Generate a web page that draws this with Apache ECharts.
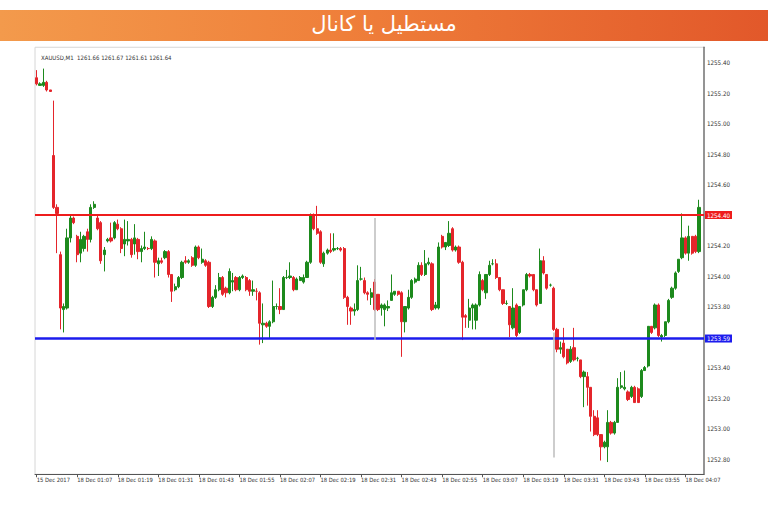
<!DOCTYPE html>
<html>
<head>
<meta charset="utf-8">
<script src="https://cdn.jsdelivr.net/npm/echarts@6/dist/echarts.min.js"></script>
<style>
html,body{margin:0;padding:0;background:#fff;}
#chart{width:768px;height:507px;}
</style>
</head>
<body>
<div id="chart"></div>
<script>
// ---- data (XAUUSD M1) ----
const titleText = 'مستطيل يا كانال';
const tickerText = 'XAUUSD,M1  1261.66 1261.67 1261.61 1261.64';
const tickLabels = ['15 Dec 2017','18 Dec 01:07','18 Dec 01:19','18 Dec 01:31','18 Dec 01:43','18 Dec 01:55','18 Dec 02:07','18 Dec 02:19','18 Dec 02:31','18 Dec 02:43','18 Dec 02:55','18 Dec 03:07','18 Dec 03:19','18 Dec 03:31','18 Dec 03:43','18 Dec 03:55','18 Dec 04:07'];
const tickEvery = 12;
const slotCount = 198;

const opens = [
1255.30,1255.25,1255.25,1255.27,1255.22,1254.79,1254.45,1254.14,1253.78,1253.79,
1254.25,1254.38,1254.26,1254.15,1254.18,1254.29,1254.24,1254.45,1254.38,1254.35,
1254.14,1254.23,1254.25,1254.25,1254.34,1254.31,1254.21,1254.23,1254.24,1254.21,
1254.24,1254.16,1254.18,1254.18,1254.18,1254.23,1254.08,1254.10,1254.12,1254.16,
1254.01,1253.91,1253.93,1253.99,1254.10,1254.09,1254.12,1254.07,1254.19,1254.09,
1254.10,1254.09,1253.80,1253.86,1253.91,1253.99,1253.92,1253.89,1253.96,1253.99,
1253.91,1253.99,1253.99,1253.97,1253.90,1253.90,1253.89,1253.68,1253.69,1253.67,
1253.70,1253.80,1253.80,1253.78,1253.99,1253.99,1253.99,1253.91,1253.97,1253.96,
1253.99,1254.09,1254.40,1254.31,1254.29,1254.08,1254.15,1254.17,1254.17,1254.18,
1254.18,1254.18,1253.86,1253.79,1253.77,1253.78,1253.98,1253.97,1253.89,1253.86,
1253.96,1253.88,1253.79,1253.78,1253.79,1253.84,1253.88,1253.90,1253.89,1253.70,
1253.79,1253.86,1253.96,1253.97,1254.07,1254.01,1254.08,1254.08,1253.79,1253.79,
1254.26,1254.19,1254.20,1254.31,1254.17,1254.19,1254.09,1253.74,1253.71,1253.79,
1253.71,1253.81,1253.97,1253.89,1254.01,1254.08,1254.08,1253.99,1253.91,1253.82,
1253.80,1253.66,1253.81,1253.63,1253.81,1253.91,1254.01,1254.01,1253.91,1253.82,
1254.10,1254.01,1253.94,1253.92,1253.65,1253.52,1253.56,1253.52,1253.44,1253.53,
1253.46,1253.45,1253.34,1253.34,1253.27,1253.08,1253.07,1252.96,1252.88,1252.88,
1253.04,1252.97,1253.04,1253.27,1253.26,1253.24,1253.21,1253.27,1253.26,1253.21,
1253.38,1253.41,1253.67,1253.66,1253.81,1253.60,1253.61,1253.70,1253.86,1253.92,
1254.03,1254.12,1254.25,1254.15,1254.26,1254.26,1254.16];

const closes = [
1255.26,1255.26,1255.27,1255.22,1255.21,1254.45,1254.41,1253.79,1253.80,1254.25,
1254.38,1254.35,1254.14,1254.24,1254.26,1254.24,1254.45,1254.47,1254.31,1254.10,
1254.17,1254.24,1254.23,1254.35,1254.31,1254.18,1254.24,1254.24,1254.14,1254.25,
1254.16,1254.18,1254.19,1254.18,1254.24,1254.09,1254.10,1254.09,1254.16,1254.01,
1253.90,1253.93,1253.99,1254.09,1254.09,1254.10,1254.07,1254.19,1254.12,1254.11,
1254.07,1253.80,1253.86,1253.91,1253.99,1253.88,1253.89,1254.03,1253.97,1253.91,
1253.99,1254.00,1253.91,1253.90,1253.91,1253.90,1253.69,1253.69,1253.67,1253.70,
1253.80,1253.80,1253.78,1253.99,1253.99,1254.00,1253.91,1253.98,1253.99,1253.99,
1254.09,1254.40,1254.31,1254.28,1254.09,1254.15,1254.17,1254.16,1254.18,1254.18,
1254.17,1253.86,1253.80,1253.77,1253.78,1253.97,1253.98,1253.89,1253.88,1253.89,
1253.78,1253.78,1253.81,1253.81,1253.80,1253.89,1253.90,1253.88,1253.70,1253.80,
1253.86,1253.97,1253.98,1254.07,1254.01,1254.08,1254.09,1253.78,1253.81,1254.19,
1254.19,1254.22,1254.28,1254.17,1254.19,1254.09,1253.73,1253.73,1253.79,1253.81,
1253.81,1254.01,1253.91,1254.01,1254.07,1254.08,1253.99,1253.91,1253.82,1253.82,
1253.68,1253.79,1253.61,1253.80,1253.91,1254.01,1254.00,1253.91,1253.81,1254.10,
1254.02,1253.92,1253.94,1253.65,1253.52,1253.53,1253.47,1253.43,1253.52,1253.45,
1253.46,1253.34,1253.37,1253.27,1253.08,1252.96,1252.96,1252.88,1252.91,1253.04,
1252.97,1253.04,1253.27,1253.28,1253.27,1253.19,1253.27,1253.17,1253.17,1253.38,
1253.40,1253.67,1253.63,1253.81,1253.61,1253.61,1253.70,1253.84,1253.92,1254.02,
1254.11,1254.25,1254.15,1254.26,1254.15,1254.16,1254.45];

const lows = [
1255.25,1255.25,1255.24,1255.21,1255.21,1254.44,1254.15,1253.65,1253.63,1253.78,
1254.22,1254.34,1254.09,1254.09,1254.16,1254.16,1254.22,1254.44,1254.30,1254.08,
1254.03,1254.22,1254.22,1254.24,1254.30,1254.15,1254.13,1254.20,1254.12,1254.14,
1254.11,1254.09,1254.17,1254.17,1254.17,1253.99,1254.00,1254.08,1254.11,1253.99,
1253.83,1253.90,1253.92,1253.98,1254.08,1254.08,1254.06,1254.06,1254.11,1254.08,
1254.06,1253.79,1253.79,1253.85,1253.90,1253.87,1253.86,1253.88,1253.90,1253.90,
1253.90,1253.98,1253.90,1253.87,1253.87,1253.84,1253.55,1253.56,1253.66,1253.59,
1253.69,1253.78,1253.75,1253.78,1253.98,1253.98,1253.90,1253.91,1253.97,1253.95,
1253.99,1254.08,1254.30,1254.27,1254.08,1254.06,1254.14,1254.15,1254.16,1254.17,
1254.16,1253.85,1253.68,1253.68,1253.74,1253.77,1253.97,1253.88,1253.84,1253.81,
1253.77,1253.77,1253.74,1253.67,1253.77,1253.84,1253.87,1253.87,1253.47,1253.63,
1253.78,1253.85,1253.95,1253.97,1254.00,1254.00,1254.07,1253.77,1253.78,1253.78,
1254.18,1254.17,1254.19,1254.16,1254.16,1254.08,1253.58,1253.66,1253.66,1253.65,
1253.65,1253.80,1253.90,1253.85,1254.00,1254.07,1253.98,1253.90,1253.81,1253.81,
1253.60,1253.65,1253.60,1253.62,1253.80,1253.90,1253.99,1253.90,1253.80,1253.82,
1254.01,1253.91,1253.93,1253.64,1253.50,1253.49,1253.46,1253.42,1253.43,1253.44,
1253.44,1253.33,1253.14,1253.15,1252.98,1252.95,1252.95,1252.79,1252.87,1252.78,
1252.96,1252.96,1253.04,1253.26,1253.25,1253.18,1253.20,1253.17,1253.17,1253.20,
1253.38,1253.40,1253.62,1253.65,1253.60,1253.57,1253.60,1253.69,1253.85,1253.91,
1254.02,1254.11,1254.14,1254.10,1254.14,1254.15,1254.15];

const highs = [
1255.35,1255.27,1255.36,1255.28,1255.22,1255.15,1254.47,1254.16,1253.82,1254.31,
1254.40,1254.39,1254.27,1254.29,1254.27,1254.31,1254.47,1254.49,1254.40,1254.36,
1254.19,1254.25,1254.35,1254.36,1254.37,1254.32,1254.37,1254.36,1254.25,1254.34,
1254.25,1254.20,1254.29,1254.19,1254.26,1254.24,1254.12,1254.12,1254.17,1254.17,
1254.01,1253.95,1254.00,1254.10,1254.13,1254.11,1254.13,1254.20,1254.20,1254.18,
1254.11,1254.10,1253.87,1253.94,1254.02,1254.00,1253.93,1254.05,1254.02,1254.00,
1254.00,1254.01,1254.00,1253.98,1253.97,1253.92,1253.90,1253.82,1253.70,1253.71,
1253.97,1253.82,1253.92,1254.00,1254.04,1254.09,1254.00,1253.99,1254.00,1254.01,
1254.10,1254.41,1254.41,1254.46,1254.30,1254.16,1254.18,1254.28,1254.28,1254.19,
1254.19,1254.19,1253.87,1253.80,1253.82,1254.07,1254.06,1253.99,1253.90,1253.92,
1253.98,1253.88,1253.82,1253.82,1253.84,1254.01,1253.90,1253.90,1253.90,1253.80,
1253.91,1253.98,1253.99,1254.09,1254.09,1254.17,1254.12,1254.09,1253.83,1254.22,
1254.27,1254.22,1254.36,1254.32,1254.20,1254.20,1254.10,1253.75,1253.85,1253.82,
1253.82,1254.03,1253.98,1254.01,1254.10,1254.11,1254.11,1253.99,1253.91,1253.84,
1253.80,1253.92,1253.82,1253.80,1253.91,1254.02,1254.02,1254.01,1253.91,1254.18,
1254.13,1254.01,1253.95,1253.93,1253.66,1253.57,1253.66,1253.52,1253.54,1253.66,
1253.47,1253.45,1253.38,1253.37,1253.27,1253.12,1253.12,1252.96,1252.92,1253.12,
1253.05,1253.05,1253.33,1253.37,1253.38,1253.25,1253.28,1253.28,1253.27,1253.39,
1253.41,1253.67,1253.67,1253.82,1253.82,1253.62,1253.70,1253.85,1253.93,1254.03,
1254.11,1254.41,1254.26,1254.33,1254.26,1254.27,1254.50];

// grey spikes (long thin shadows)
const spikeIndex = [100, 153];
const spikeLow = [1253.58, 1252.81];
const spikeHigh = [1254.38, 1253.63];

// horizontal levels
const resistanceLevel = 1254.40;
const supportLevel = 1253.59;

// ---- chart ----
const categories = Array.from({length: slotCount}, (_, i) => String(i));
const candleData = opens.map((o, i) => [o, closes[i], lows[i], highs[i]]);

const spikeLines = spikeIndex.map((idx, k) => [
  {coord: [String(idx), spikeLow[k]], lineStyle: {color: '#bdbdbd', width: 1.5, type: 'solid'}, label: {show: false}},
  {coord: [String(idx), spikeHigh[k]]}
]);

const narrow = "'Liberation Sans Narrow','DejaVu Sans Condensed','Liberation Sans',Arial,sans-serif";
const chart = echarts.init(document.getElementById('chart'), null, {renderer: 'svg'});
const levels = [resistanceLevel, supportLevel];

chart.setOption({
  animation: false,
  backgroundColor: '#ffffff',
  title: [
    {text: titleText, left: 'center', top: 8,
     textStyle: {color: '#ffffff', fontSize: 21, fontWeight: 'normal', fontFamily: "'DejaVu Sans','Noto Sans',sans-serif"}},
    {text: tickerText, left: 36, top: 49,
     textStyle: {color: '#333333', fontSize: 6, fontWeight: 'normal', fontFamily: narrow}}
  ],
  graphic: [{
    type: 'rect', z: -1, silent: true,
    shape: {x: 0, y: 10, width: 768, height: 31},
    style: {fill: new echarts.graphic.LinearGradient(0, 0, 1, 0, [
      {offset: 0, color: '#f39a4c'},
      {offset: 0.45, color: '#ef7f3a'},
      {offset: 1, color: '#e2582a'}
    ])}
  }],
  grid: {left: 35, right: 64, top: 47.25, bottom: 32.75, show: true, borderColor: '#d6d6d6', borderWidth: 1},
  xAxis: {
    type: 'category',
    data: categories,
    boundaryGap: true,
    axisLine: {show: true, lineStyle: {color: '#555555', width: 1}},
    axisTick: {show: true, alignWithLabel: true, length: 3, interval: (i) => i % tickEvery === 0, lineStyle: {color: '#555555'}},
    axisLabel: {
      interval: (i) => i % tickEvery === 0,
      formatter: (v, i) => (i % tickEvery === 0 && tickLabels[i / tickEvery]) ? tickLabels[i / tickEvery] : '',
      align: 'left', margin: 3, color: '#333333', fontSize: 5.8, fontFamily: narrow
    },
    splitLine: {show: false}
  },
  yAxis: {
    type: 'value',
    position: 'right',
    min: 1252.7, max: 1255.5, interval: 0.1,
    scale: true,
    axisLine: {show: true, lineStyle: {color: '#777777', width: 1.5}},
    axisTick: {show: false},
    splitLine: {show: false},
    axisLabel: {
      margin: 3, color: '#333333', fontSize: 6.2, fontFamily: narrow,
      formatter: (v) => {
        if (Math.round(v * 10) % 2 !== 0) return '';
        for (const l of levels) if (Math.abs(v - l) < 0.05) return '';
        return v.toFixed(2);
      }
    }
  },
  series: [{
    type: 'candlestick',
    data: candleData,
    barWidth: '80%',
    itemStyle: {color: '#1d8a1d', color0: '#e4252b', borderColor: '#1d8a1d', borderColor0: '#e4252b', borderWidth: 1},
    markLine: {
      silent: true,
      symbol: ['none', 'none'],
      animation: false,
      data: [
        {yAxis: resistanceLevel, lineStyle: {color: '#ee1c1c', width: 2, type: 'solid'},
         label: {show: true, position: 'end', distance: 1, formatter: () => resistanceLevel.toFixed(2),
                 color: '#ffffff', backgroundColor: '#ee1c1c', padding: [1, 2, 1, 2], fontSize: 6.2, fontFamily: narrow}},
        {yAxis: supportLevel, lineStyle: {color: '#1c1ced', width: 2.5, type: 'solid'},
         label: {show: true, position: 'end', distance: 1, formatter: () => supportLevel.toFixed(2),
                 color: '#ffffff', backgroundColor: '#1c1ced', padding: [1, 2, 1, 2], fontSize: 6.2, fontFamily: narrow}}
      ].concat(spikeLines)
    }
  }]
});
</script>
</body>
</html>
